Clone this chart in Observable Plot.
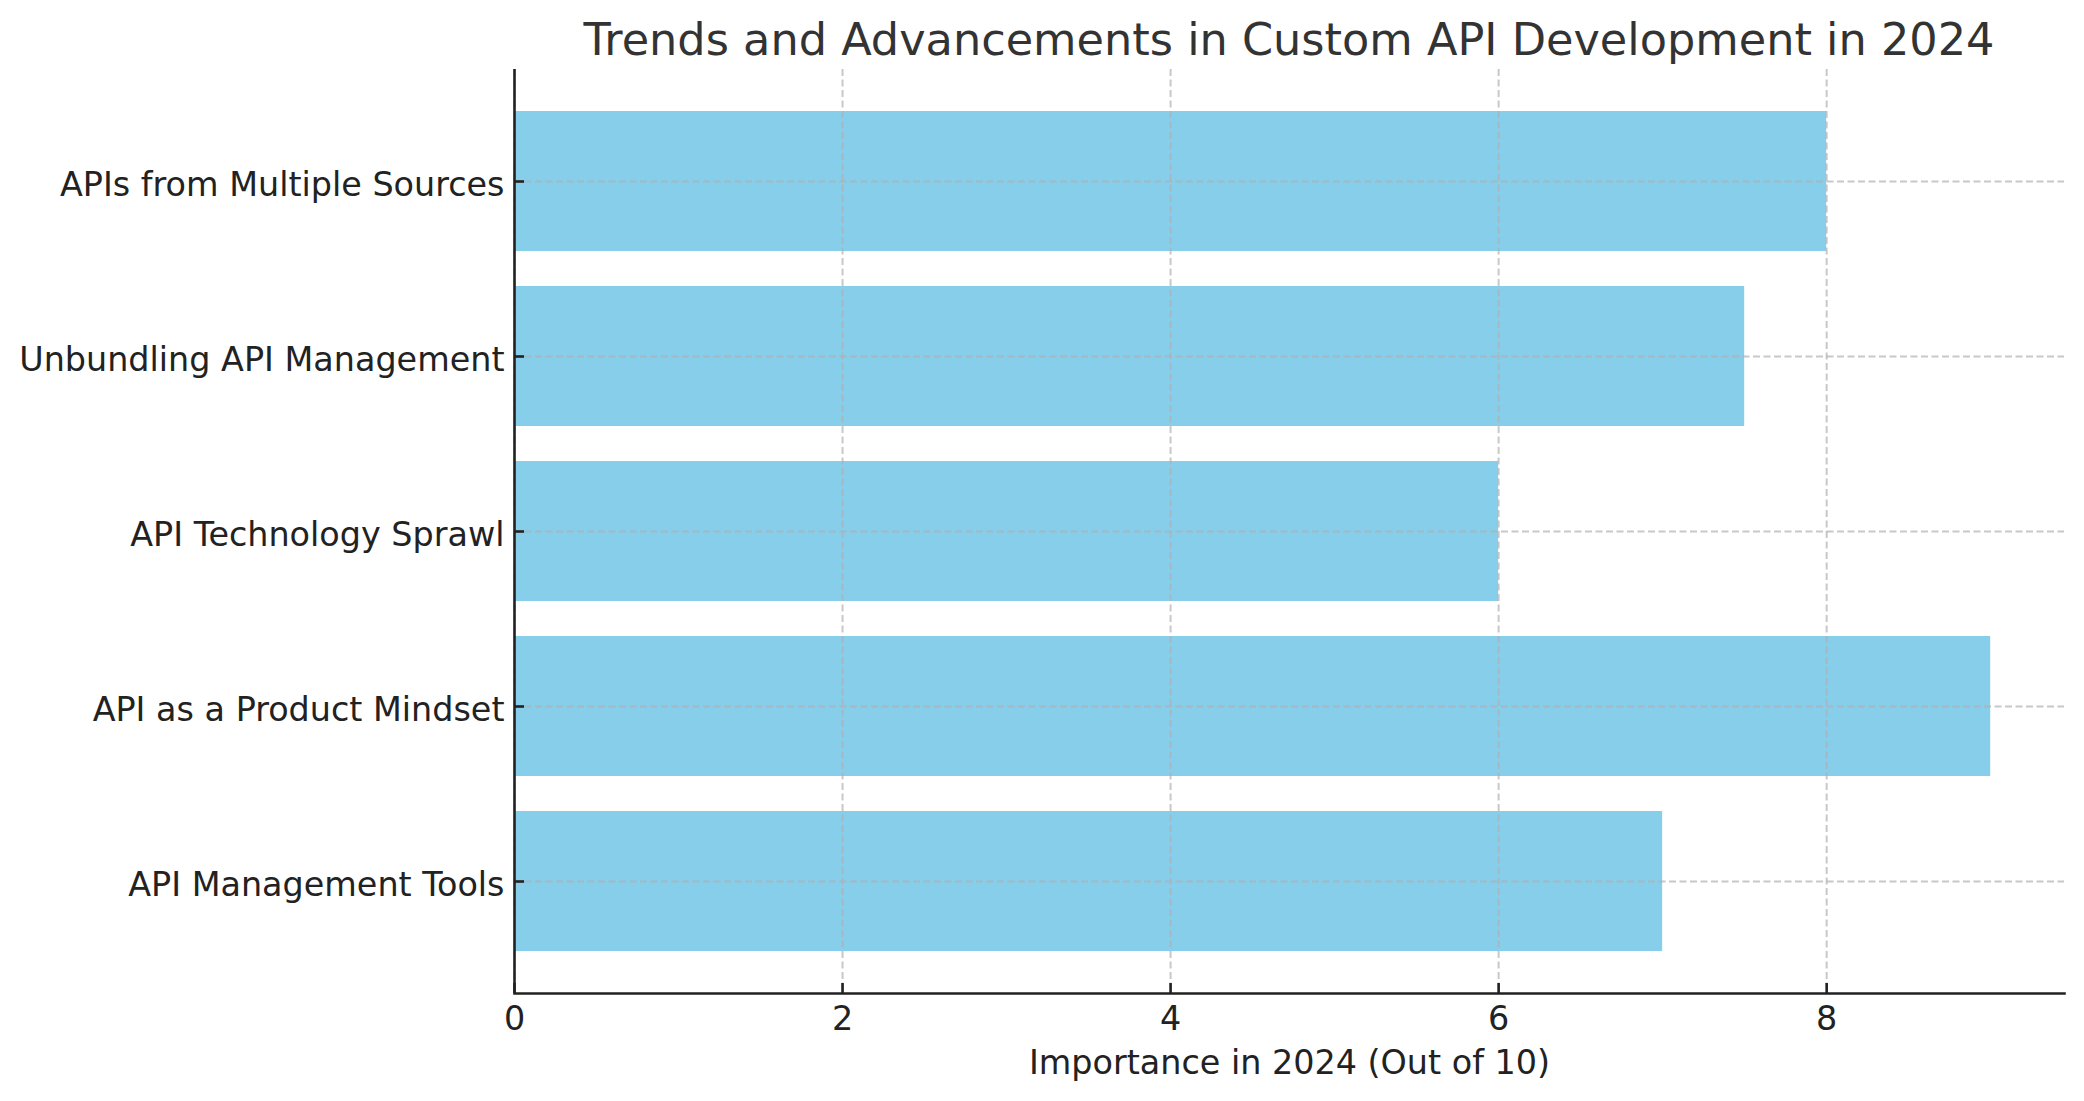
<!DOCTYPE html>
<html>
<head>
<meta charset="utf-8">
<script src="https://cdn.jsdelivr.net/npm/d3@7"></script>
<script src="https://cdn.jsdelivr.net/npm/@observablehq/plot@0.6"></script>
<style>
  html, body { margin: 0; padding: 0; background: #fff; }
  #wrap { position: relative; width: 2084px; height: 1101px; }
  #title {
    position: absolute; left: 514px; width: 1550px; top: 18px;
    text-align: center; font-family: "DejaVu Sans", sans-serif;
    font-size: 44.6px; line-height: 44px; color: #333; white-space: nowrap;
  }
</style>
</head>
<body>
<div id="wrap">
  <div id="title">Trends and Advancements in Custom API Development in 2024</div>
  <div id="chart"></div>
</div>
<script>
const categories = [
  "APIs from Multiple Sources",
  "Unbundling API Management",
  "API Technology Sprawl",
  "API as a Product Mindset",
  "API Management Tools"
];
const values = [8, 7.5, 6, 9, 7];
const xTicks = [0, 2, 4, 6, 8];
const xLabel = "Importance in 2024 (Out of 10)";

const data = categories.map((c, i) => ({category: c, value: values[i]}));

const gridStyle = {stroke: "#b0b0b0", strokeOpacity: 0.7, strokeWidth: 2, strokeDasharray: "7,3.5"};
const ink = "#222";

const chart = Plot.plot({
  width: 2084,
  height: 1101,
  marginLeft: 514,
  marginRight: 20,
  marginTop: 69,
  marginBottom: 108,
  style: {fontFamily: "DejaVu Sans, sans-serif", background: "#fff", color: ink},
  x: {domain: [0, 9.45]},
  y: {domain: categories, paddingInner: 0.2, paddingOuter: 0.1, insetTop: 24.5, insetBottom: 24.5},
  marks: [
    Plot.barX(data, {x: "value", y: "category", fill: "#87CEEB"}),
    Plot.gridX(xTicks, gridStyle),
    Plot.gridY(categories, gridStyle),
    Plot.ruleX([0], {stroke: ink, strokeWidth: 2.6}),
    Plot.frame({anchor: "bottom", stroke: ink, strokeWidth: 2.6}),
    Plot.axisX(xTicks, {tickSize: 10, dy: -10, strokeWidth: 2.6, stroke: ink, tickFormat: () => "", label: null}),
    Plot.axisX(xTicks, {tickSize: 0, tickPadding: 12.5, fontSize: 33.4, fill: ink, tickFormat: d3.format("d"),
      label: xLabel, labelAnchor: "center", labelOffset: 80, labelArrow: "none"}),
    Plot.axisY(categories, {tickSize: 10, dx: 10, strokeWidth: 2.6, stroke: ink, tickFormat: () => "", label: null}),
    Plot.axisY(categories, {tickSize: 0, tickPadding: 10, dy: 4, fontSize: 33.4, fill: ink, label: null})
  ]
});
document.getElementById("chart").appendChild(chart);
</script>
</body>
</html>
